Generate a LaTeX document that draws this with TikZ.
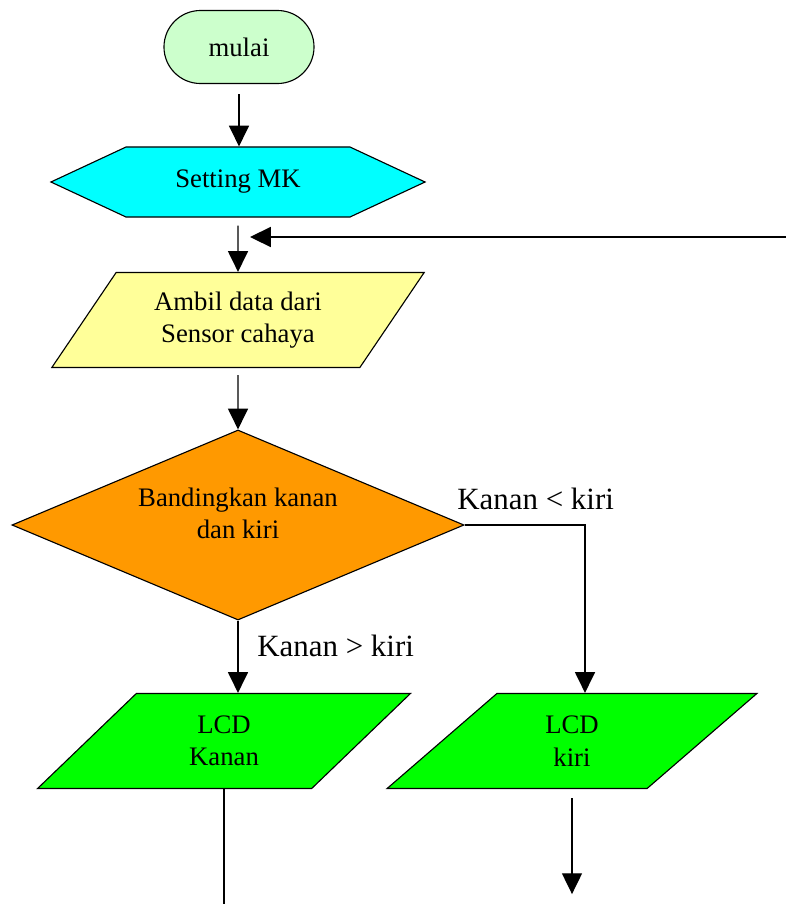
\documentclass[tikz,border=0pt]{standalone}
\usepackage{fontspec}
\setmainfont{Liberation Serif}
\usepackage{xcolor}
\usepackage{tikz}
\usetikzlibrary{shapes.geometric,shapes.misc,shapes.symbols,arrows.meta,calc}

\definecolor{hijaumuda}{HTML}{CCFFCC}
\definecolor{sian}{HTML}{00FFFF}
\definecolor{kuning}{HTML}{FFFF99}
\definecolor{oranye}{HTML}{FF9900}
\definecolor{hijau}{HTML}{00FF00}

\begin{document}
\begin{tikzpicture}[x=0.025cm,y=-0.025cm]
      % Definisi gaya
      \tikzstyle{simbol}=[draw, line width=0.8pt, inner sep=0pt, align=center, font=\fontsize{19}{23}\selectfont]
      \tikzstyle{terminal}=[simbol, rounded rectangle, fill=hijaumuda, minimum width=3.75cm, minimum height=1.825cm]
      \tikzstyle{persiapan}=[simbol, signal, signal to=east and west, signal pointer angle=50, fill=sian, minimum width=9.35cm, minimum height=1.75cm]
      \tikzstyle{masukan}=[simbol, trapezium, trapezium left angle=52, trapezium right angle=128, trapezium stretches=true, minimum width=9.325cm, minimum height=2.375cm]
      \tikzstyle{keputusan}=[simbol, diamond, aspect=2.38, fill=oranye, minimum width=11.3cm, minimum height=4.75cm]
      \tikzstyle{panah}=[line width=1pt, -{Triangle[width=0.5cm,length=0.52cm]}]
      \tikzstyle{garis}=[line width=1pt]
      \tikzstyle{ket}=[font=\fontsize{22}{26}\selectfont, inner sep=0pt, anchor=base west]

      \useasboundingbox (0,0) rectangle (786,904);

      % Simbol utama
      \node[terminal] (mulai) at (239,47) {mulai};
      \node[persiapan] (setting) at (238,182) {Setting MK};
      \node[masukan, fill=kuning] (ambil) at (238,320) {Ambil data dari\\Sensor cahaya};
      \node[keputusan] (banding) at (238,525) {Bandingkan kanan\\dan kiri\rule[-0.6cm]{0pt}{0pt}};
      \node[masukan, fill=hijau] (lcdkanan) at (224,741) {LCD\\Kanan};
      \node[masukan, fill=hijau] (lcdkiri) at (572,741) {LCD\\kiri};

      % Titik bantu untuk umpan balik
      \coordinate (balik) at (786,237);
      \coordinate (balikujung) at (250,237);

      % Panah
      \draw[panah] ($(mulai.south)+(0,10)$) -- (mulai.south |- setting.north);
      \draw[panah] ($(setting.south)+(0,8)$) -- (ambil.north);
      \draw[panah] (balik) -- (balikujung);
      \draw[panah] ($(ambil.south)+(0,7)$) -- (banding.north);
      \draw[panah] (banding.east) -| ($(lcdkiri.north)+(13,0)$);
      \draw[panah] (banding.south) -- (banding.south |- lcdkanan.north);
      \draw[garis] (lcdkanan.south) -- ++(0,116);
      \draw[panah] ($(lcdkiri.south)+(0,9)$) -- ++(0,96);

      % Keterangan cabang
      \node[ket] (lblkiri) at (457,509) {Kanan < kiri};
      \node[ket] (lblkanan) at (257,656) {Kanan > kiri};
\end{tikzpicture}
\end{document}
